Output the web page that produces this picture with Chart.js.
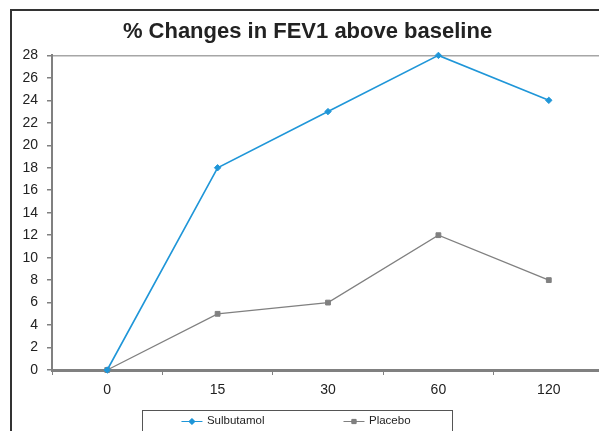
<!DOCTYPE html>
<html>
<head>
<meta charset="utf-8">
<script src="https://cdn.jsdelivr.net/npm/chart.js@4/dist/chart.umd.min.js"></script>
<style>
  html, body { margin: 0; padding: 0; background: #fff; overflow: hidden; width: 599px; height: 431px; }
  #wrap { position: absolute; left: 0; top: 0; width: 612px; height: 431px; }
  #frame { position: absolute; left: 10px; top: 9px; width: 700px; height: 500px;
           border-left: 2px solid #333; border-top: 2px solid #333; pointer-events: none; }
  canvas { position: absolute; left: 0; top: 0; }
</style>
</head>
<body>
<div id="wrap">
  <canvas id="c" width="612" height="431"></canvas>
  <div id="frame"></div>
</div>
<script>
// ---- data ----
const categories = ['0', '15', '30', '60', '120'];
const sulbutamol = [0, 18, 23, 28, 24];
const placebo = [0, 5, 6, 12, 8];
const seriesNames = ['Sulbutamol', 'Placebo'];
const chartTitle = '% Changes in FEV1 above baseline';
const yMin = 0, yMax = 28, yStep = 2;

const FONT = '"Liberation Sans", Arial, Helvetica, sans-serif';
const BLUE = '#1f96d8';
const GREY = '#808080';

// custom legend (framed, like the original spreadsheet legend)
const framedLegend = {
  id: 'framedLegend',
  afterDraw(chart) {
    const ctx = chart.ctx;
    const ds = chart.data.datasets;
    const fontSize = 11.5;
    ctx.save();
    ctx.font = fontSize + 'px ' + FONT;
    const symW = 21, symGap = 4.5, itemGap = 79;
    const widths = ds.map(d => symW + symGap + ctx.measureText(d.label).width);
    const total = widths.reduce((a, b) => a + b, 0) + itemGap * (ds.length - 1);
    const cx = 296, cy = 421, top = 410;
    let x = cx - total / 2;
    const startX = x;
    // frame
    ctx.strokeStyle = '#555';
    ctx.lineWidth = 1;
    ctx.strokeRect(Math.round(startX - 39) + 0.5, top + 0.5, Math.round(total + 81), 60);
    ds.forEach((d, i) => {
      ctx.strokeStyle = d.borderColor;
      ctx.lineWidth = 1;
      ctx.beginPath();
      ctx.moveTo(x, cy + 0.5);
      ctx.lineTo(x + symW, cy + 0.5);
      ctx.stroke();
      Chart.helpers.drawPoint(ctx, {
        pointStyle: d.pointStyle, radius: 3, borderWidth: 1
      }, x + symW / 2, cy + 0.5);
      ctx.fillStyle = d.borderColor;
      ctx.fill();
      ctx.fillStyle = '#222';
      ctx.textBaseline = 'middle';
      ctx.textAlign = 'left';
      ctx.fillText(d.label, x + symW + symGap, cy);
      x += widths[i] + itemGap;
    });
    ctx.restore();
  }
};

new Chart(document.getElementById('c'), {
  type: 'line',
  data: {
    labels: categories,
    datasets: [
      {
        label: seriesNames[0], data: sulbutamol,
        borderColor: BLUE, backgroundColor: BLUE, borderWidth: 1.6,
        pointStyle: 'rectRot', pointRadius: 3.2, pointBorderWidth: 1,
        pointBackgroundColor: BLUE, pointBorderColor: BLUE,
        tension: 0, fill: false, clip: false
      },
      {
        label: seriesNames[1], data: placebo,
        borderColor: GREY, backgroundColor: GREY, borderWidth: 1.3,
        pointStyle: 'rect', pointRadius: 3.4, pointBorderWidth: 1,
        pointBackgroundColor: GREY, pointBorderColor: GREY,
        tension: 0, fill: false, clip: false
      }
    ]
  },
  options: {
    responsive: false,
    animation: false,
    devicePixelRatio: 1,
    layout: { padding: { left: 11, right: 8, top: 10, bottom: 0 } },
    plugins: {
      legend: { display: false },
      tooltip: { enabled: false },
      title: {
        display: true, text: chartTitle, color: '#222',
        font: { family: FONT, size: 22, weight: 'bold' },
        padding: { top: 8.5, bottom: 10.5 }
      }
    },
    scales: {
      x: {
        type: 'category', offset: true,
        grid: { offset: true, drawOnChartArea: false, drawTicks: true, tickLength: 5,
                color: GREY, lineWidth: 1 },
        border: { display: true, color: GREY, width: 3 },
        ticks: { color: '#222', font: { family: FONT, size: 14 }, padding: 7, maxRotation: 0 },
        afterFit(s) { s.height = 61; }
      },
      y: {
        min: yMin, max: yMax,
        ticks: { stepSize: yStep, color: '#222', font: { family: FONT, size: 14 }, padding: 9 },
        grid: {
          drawOnChartArea: true, drawTicks: true, tickLength: 5,
          color: ctx => (ctx.tick && ctx.tick.value === yMax) ? '#a6a6a6' : 'rgba(0,0,0,0)',
          tickColor: GREY, lineWidth: 1.5
        },
        border: { display: true, color: GREY, width: 2 },
        afterFit(s) { s.width = 41; }
      }
    }
  },
  plugins: [framedLegend]
});
</script>
</body>
</html>
